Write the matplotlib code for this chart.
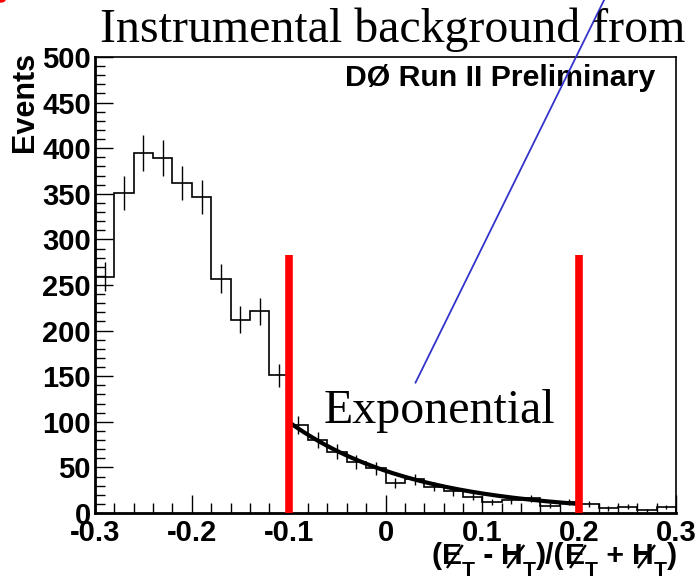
import matplotlib
matplotlib.use("Agg")
import matplotlib.pyplot as plt
import matplotlib.patches as mpatches
from matplotlib.lines import Line2D
import numpy as np
from matplotlib.ticker import MultipleLocator

# ── data ──────────────────────────────────────────────────────────────────────
bin_edges = np.round(np.arange(-0.30, 0.3001, 0.02), 3)
counts = [259, 351, 395, 389, 362, 347, 257, 212, 221, 151,
          97, 80, 67, 56, 49, 33, 37, 29, 24, 18,
          12, 14, 16, 8, 12, 10, 5, 7, 3, 6.5]

# exponential fit  N(x) = amp * exp(slope * (x - x0)), drawn over the fit window
fit_amp = 100.0
fit_slope = -7.7
fit_x0 = -0.1
fit_window = [-0.1, 0.2]
cut_lines = [-0.1, 0.2]
cut_height = 283

# blue pointer from "Exponential" up to the title (data coords)
pointer_start = (0.031, 143)
pointer_end = (0.226, 563)

# x label pieces: (text, is_subscript, slashed)
xlabel_parts = [("(", False, False), ("E", False, True), ("T", True, False),
                (" - ", False, False), ("H", False, True), ("T", True, False),
                (")/(", False, False), ("E", False, True), ("T", True, False),
                (" + ", False, False), ("H", False, True), ("T", True, False),
                (")", False, False)]

# ── figure ────────────────────────────────────────────────────────────────────
W, H = 698, 581
fig = plt.figure(figsize=(W / 100, H / 100), dpi=100)
fig.patch.set_facecolor("white")
ax = fig.add_axes([0.1361, 0.117, 0.8324, 0.7849])

counts = np.array(counts, dtype=float)
centers = 0.5 * (bin_edges[:-1] + bin_edges[1:])

ax.stairs(counts, bin_edges, color="black", lw=1.2, zorder=3)
ax.errorbar(centers, counts, yerr=np.sqrt(counts), fmt="none",
            ecolor="black", elinewidth=1.0, capsize=0, zorder=3)

xf = np.linspace(fit_window[0], fit_window[1], 200)
ax.plot(xf, fit_amp * np.exp(fit_slope * (xf - fit_x0)), color="black",
        lw=3, zorder=4)

for xc in cut_lines:
    ax.plot([xc, xc], [0, cut_height], color="#ff0000", lw=5.5,
            solid_capstyle="butt", zorder=5)

ax.plot([pointer_start[0], pointer_end[0]], [pointer_start[1], pointer_end[1]],
        color="#3333cc", lw=1.3, clip_on=False, zorder=6)

ax.set_xlim(-0.3, 0.3)
ax.set_ylim(0, 500)

ax.xaxis.set_major_locator(MultipleLocator(0.1))
ax.xaxis.set_minor_locator(MultipleLocator(0.02))
ax.yaxis.set_major_locator(MultipleLocator(50))
ax.yaxis.set_minor_locator(MultipleLocator(10))
ax.tick_params(which="both", direction="in", top=False, right=False,
               color="black")
ax.tick_params(which="major", length=13, width=1.0)
ax.tick_params(which="minor", length=7, width=1.0)
ax.tick_params(axis="y", which="major", pad=3)
ax.tick_params(axis="x", which="major", pad=4)

ax.set_xticks([-0.3, -0.2, -0.1, 0, 0.1, 0.2, 0.3])
ax.set_xticklabels(["-0.3", "-0.2", "-0.1", "0", "0.1", "0.2", "0.3"])
for lab in ax.get_xticklabels() + ax.get_yticklabels():
    lab.set_fontfamily("Liberation Sans")
    lab.set_fontweight("bold")
    lab.set_fontsize(21)

for side in ["left", "bottom"]:
    ax.spines[side].set_linewidth(2)
for side in ["top", "right"]:
    ax.spines[side].set_linewidth(1.2)

fig.text(25 / W, 1 - 102 / H, "Events", rotation=90, ha="center",
         va="center", fontsize=22, fontweight="bold", family="Liberation Sans")

ax.text(0.964, 0.954, "DØ Run II Preliminary", transform=ax.transAxes,
        ha="right", va="center", fontsize=21.8, fontweight="bold",
        family="Liberation Sans")

fig.text(0.562, 0.928, "Instrumental background from", ha="center",
         va="baseline", fontsize=34.5, family="Liberation Serif")
fig.text(0.630, 0.272, "Exponential", ha="center", va="baseline",
         fontsize=34.5, family="Liberation Serif")

# ── x label built piece by piece so the E and H can carry a slash ─────────────
renderer = fig.canvas.get_renderer()
base_y = H - 564           # baseline of the big letters, pixels from bottom
sub_y = H - 576
right_x = 677
texts = []
for txt, sub, slashed in xlabel_parts:
    t = fig.text(0, 0, txt, fontsize=15.2 if sub else 21.7, fontweight="bold",
                 family="Liberation Sans", ha="left", va="baseline",
                 transform=None)
    texts.append(t)
widths = [t.get_window_extent(renderer).width for t in texts]
x = right_x - sum(widths)
for t, w, (txt, sub, slashed) in zip(texts, widths, xlabel_parts):
    t.set_position((x, sub_y if sub else base_y))
    if slashed:
        fig.add_artist(Line2D([x + 0.30 * w, x + 1.02 * w],
                              [base_y - 3, base_y + 18], transform=None,
                              color="black", lw=1.7))
    x += w

# small red mark in the top-left corner
fig.add_artist(mpatches.Ellipse((0.0, 1.0), 0.014, 0.007,
               transform=fig.transFigure, color="#ff0000"))

fig.savefig("out.png", dpi=100, facecolor="white")
plt.close(fig)
